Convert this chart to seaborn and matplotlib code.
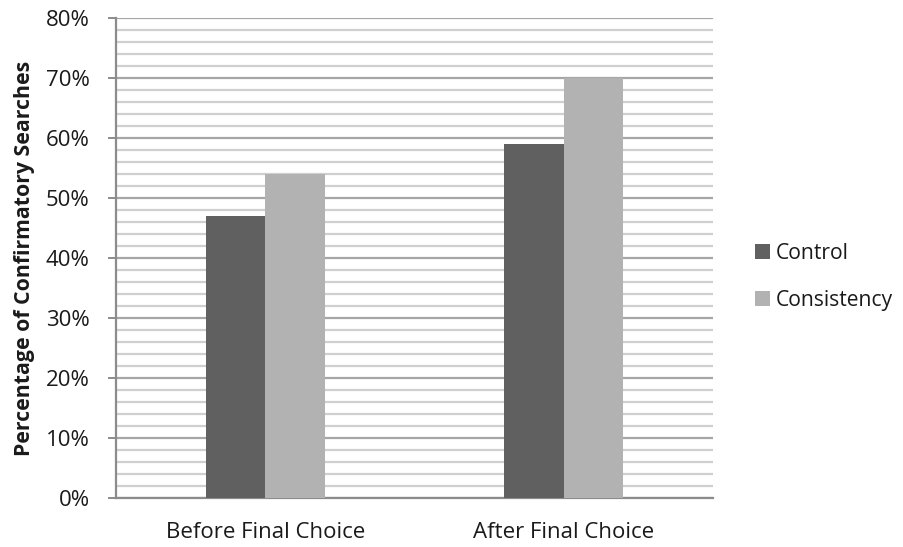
import matplotlib
matplotlib.use("Agg")
import matplotlib.pyplot as plt
import seaborn as sns
import pandas as pd
import numpy as np
from matplotlib.ticker import MultipleLocator, FuncFormatter
from matplotlib.patches import Patch

# Data
phases = ["Before Final Choice", "After Final Choice"]
conditions = ["Control", "Consistency"]
control_pct = [47, 59]
consistency_pct = [54, 70]

df = pd.DataFrame({
    "phase": phases * 2,
    "condition": [conditions[0]] * 2 + [conditions[1]] * 2,
    "pct": control_pct + consistency_pct,
})

sns.set_theme(style="white")
plt.rcParams["font.family"] = ["Open Sans", "DejaVu Sans"]

colors = {"Control": "#606060", "Consistency": "#b2b2b2"}
text_color = "#1a1a1a"
fs = 16

fig = plt.figure(figsize=(9.04, 5.47), dpi=100)
ax = fig.add_axes([116 / 904, 1 - 498 / 547, (713 - 116) / 904, (498 - 18) / 547])

sns.barplot(data=df, x="phase", y="pct", hue="condition", hue_order=conditions,
            order=phases, palette=colors, width=0.4, saturation=1,
            edgecolor="none", linewidth=0, ax=ax, legend=False, zorder=3)

ax.set_xlim(-0.5, 1.5)
ax.set_ylim(0, 80)

# Gridlines: major every 10%, minor every 2%
ax.yaxis.set_major_locator(MultipleLocator(10))
ax.yaxis.set_minor_locator(MultipleLocator(2))
ax.yaxis.set_major_formatter(FuncFormatter(lambda v, _: f"{int(v)}%"))
ax.grid(which="major", axis="y", color="#a6a6a6", linewidth=1.6, zorder=0)
ax.grid(which="minor", axis="y", color="#cfcfcf", linewidth=1.6, zorder=0)
ax.set_axisbelow(True)

for side in ["top", "right"]:
    ax.spines[side].set_visible(False)
for side in ["left", "bottom"]:
    ax.spines[side].set_color("#8c8c8c")
    ax.spines[side].set_linewidth(1.6)

ax.tick_params(axis="y", which="major", direction="out", length=6, width=1.4,
               color="#8c8c8c", pad=13, labelsize=fs, labelcolor=text_color, left=True)
ax.tick_params(axis="y", which="minor", length=0)
ax.tick_params(axis="x", length=0, pad=17, labelsize=fs, labelcolor=text_color)

ax.set_xlabel("")
ax.set_ylabel("Percentage of Confirmatory Searches", fontsize=15.3, fontweight="bold",
              color=text_color, labelpad=8)

handles = [Patch(facecolor=colors[c], edgecolor="none", label=c) for c in conditions]
fig.legend(handles=handles, loc="center left", bbox_to_anchor=(736 / 904, 1 - 277 / 547),
           frameon=False, fontsize=15.2, labelcolor=text_color,
           handlelength=0.7, handleheight=0.7, handletextpad=0.3, labelspacing=1.25)

fig.savefig("out.png", dpi=100, facecolor="white")
